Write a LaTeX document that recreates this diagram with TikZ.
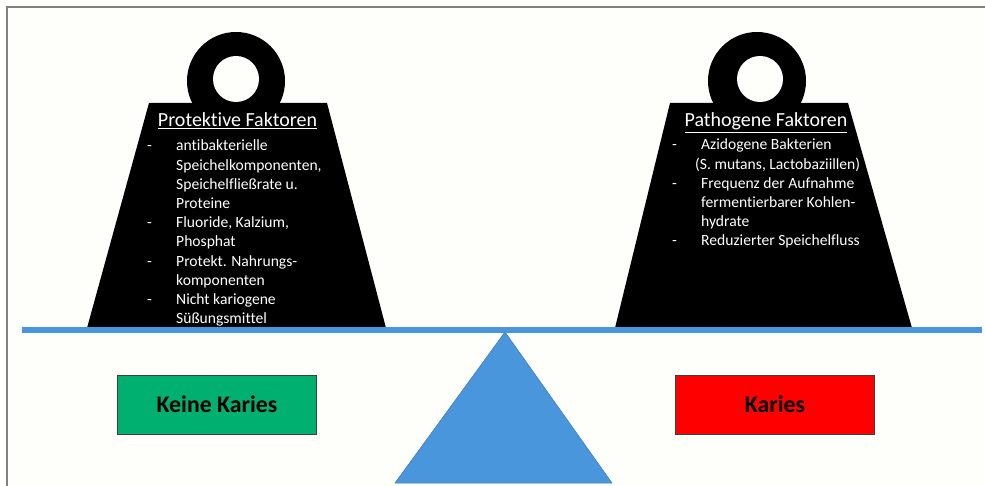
\documentclass[tikz,border=0pt]{standalone}
\usepackage{fontspec}
\setmainfont{Carlito}[Ligatures={NoCommon}]
\usetikzlibrary{positioning}
\definecolor{paper}{RGB}{254,254,250}
\definecolor{frame}{RGB}{128,128,128}
\definecolor{beamblue}{RGB}{74,150,220}
\definecolor{beamedge}{RGB}{60,120,180}
\definecolor{okgreen}{RGB}{0,176,112}
\definecolor{badred}{RGB}{255,0,0}
\tikzset{
  weight/.style={fill=black},
  hole/.style={fill=paper},
  facttitle/.style={text=white,inner sep=0pt,anchor=base,
    font=\fontsize{20bp}{24bp}\selectfont},
  factline/.style={text=white,inner sep=0pt,anchor=base west,
    font=\fontsize{15.6bp}{19.2bp}\selectfont},
  beam/.style={beamblue,line width=5.5bp},
  outcome/.style={draw=black!75,line width=0.8bp,minimum width=199bp,
    minimum height=59bp,inner sep=0pt,font=\bfseries\fontsize{23.8bp}{28bp}\selectfont},
}

\begin{document}
\begin{tikzpicture}[x=1bp,y=-1bp]
  \useasboundingbox[fill=paper] (0,0) rectangle (985,486);
  \draw[frame,line width=2bp] (7,486) -- (7,7) -- (985,7);

  % the two weights
  \fill[weight] (236,81) circle (49);
  \fill[weight] (149,103) -- (327,103) -- (386,328) -- (87,328) -- cycle;
  \fill[hole] (236,79) circle (23);
  \fill[weight] (757,81) circle (49);
  \fill[weight] (670,103) -- (848,103) -- (912,328) -- (615,328) -- cycle;
  \fill[hole] (760,79) circle (23);

  \node[facttitle] (prot) at (237.5,127) {\underline{Protektive Faktoren}};
  \foreach \i/\t in {0/antibakterielle, 1/{Speichelkomponenten,},
      2/{Speichelfließrate u.}, 3/Proteine, 4/{Fluoride, Kalzium,},
      5/Phosphat, 6/{Protekt. Nahrungs-}, 7/komponenten,
      8/{Nicht kariogene}, 9/Süßungsmittel}
    \node[factline] (p\i) at (176,{151+\i*19.2}) {\t};
  \foreach \i in {0,4,6,8}
    \node[factline] (pd\i) at (147,{151+\i*19.2}) {-};

  \node[facttitle] (path) at (766,127) {\underline{Pathogene Faktoren}};
  \foreach \i/\x/\t in {0/701/{Azidogene Bakterien},
      1/695/{(S. mutans, Lactobaziillen)}, 2/701/{Frequenz der Aufnahme},
      3/701/{fermentierbarer Kohlen-}, 4/701/hydrate,
      5/701/{Reduzierter Speichelfluss}}
    \node[factline] (q\i) at (\x,{150+\i*19.2}) {\t};
  \foreach \i in {0,2,5}
    \node[factline] (qd\i) at (672,{150+\i*19.2}) {-};

  % scale
  \coordinate (pivot) at (505,332);
  \fill[beamblue,draw=beamedge,line width=0.5bp]
    (pivot) -- (612,483) -- (395,483) -- cycle;
  \draw[beam] (22,330) -- (982,330);

  \node[outcome,fill=okgreen] (nocaries) at (217,404.5) {Keine Karies};
  \node[outcome,fill=badred] (caries) at (775,404.5) {Karies};
\end{tikzpicture}
\end{document}
